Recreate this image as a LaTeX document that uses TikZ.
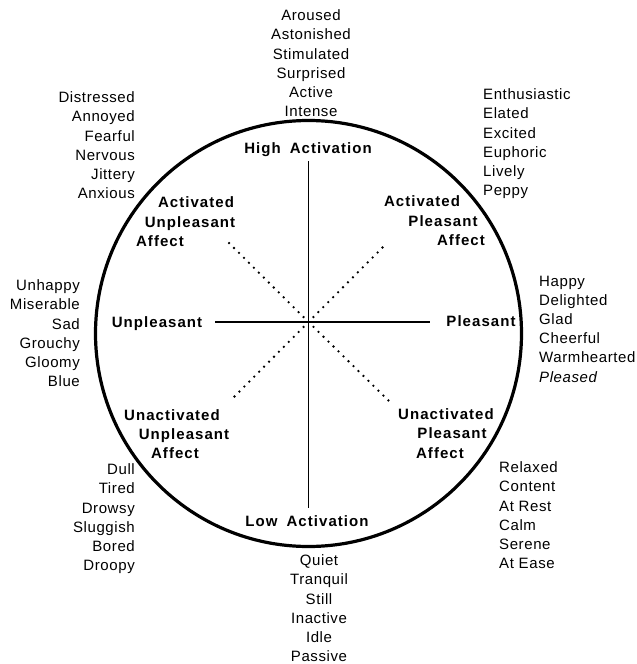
\documentclass[tikz,border=0pt]{standalone}
\usepackage{fontspec}
\setmainfont{Liberation Sans}
\newfontfamily\wordfont[LetterSpace=4]{Liberation Sans}
\newfontfamily\areafont[LetterSpace=7]{Liberation Sans}
\tikzset{
  words/.style={inner sep=0pt, align=#1, font=\wordfont\fontsize{15}{19.2}\selectfont},
  area/.style={inner sep=0pt, anchor=base, font=\areafont\bfseries\fontsize{15}{19}\selectfont},
  axis/.style={line width=1.7pt},
  diag/.style={line width=2.6pt, line cap=round, dash pattern=on 0pt off 7pt},
}

\begin{document}
\begin{tikzpicture}[x=1pt, y=-1pt]
  \useasboundingbox (0,0) rectangle (637,664);

  % circle and axes
  \draw[line width=3.2pt] (308.5,333.5) circle (213pt);
  \coordinate (c) at (308.5,322);
  \coordinate (n) at (308.5,161);
  \coordinate (s) at (308.5,508);
  \coordinate (w) at (215,322);
  \coordinate (e) at (430,322);
  \coordinate (nw) at (228,242);
  \coordinate (ne) at (386,244);
  \coordinate (sw) at (231,400);
  \coordinate (se) at (390,402);
  \draw[axis] (n) -- (s);
  \draw[axis] (w) -- (e);
  \draw[diag] (c) -- (nw);
  \draw[diag] (c) -- (ne);
  \draw[diag] (c) -- (sw);
  \draw[diag] (c) -- (se);

  % axis and quadrant labels
  \node[area] (high) at (308,153) {High\hspace{0.6em}Activation};
  \node[area] (low) at (307,526) {Low\hspace{0.6em}Activation};
  \node[area] (unpl) at (157,327) {Unpleasant};
  \node[area] (pl) at (481,326) {Pleasant};

  \node[area] (aua) at (196,207) {Activated};
  \node[area] (aub) at (190,227) {Unpleasant};
  \node[area] (auc) at (160,246) {Affect};
  \node[area] (apa) at (422,206) {Activated};
  \node[area] (apb) at (443,226) {Pleasant};
  \node[area] (apc) at (461,245) {Affect};
  \node[area] (uua) at (172,420) {Unactivated};
  \node[area] (uub) at (184,439) {Unpleasant};
  \node[area] (uuc) at (175,458) {Affect};
  \node[area] (upa) at (446,419) {Unactivated};
  \node[area] (upb) at (452,438) {Pleasant};
  \node[area] (upc) at (440,458) {Affect};

  % word lists
  \node[words=center, anchor=north] (wn) at (311,9.6)
    {Aroused\\Astonished\\Stimulated\\Surprised\\Active\\Intense};
  \node[words=right, anchor=north east] (wnw) at (135,91.6)
    {Distressed\\Annoyed\\Fearful\\Nervous\\Jittery\\Anxious};
  \node[words=left, anchor=north west] (wne) at (483,88.6)
    {Enthusiastic\\Elated\\Excited\\Euphoric\\Lively\\Peppy};
  \node[words=right, anchor=north east] (ww) at (80,279.6)
    {Unhappy\\Miserable\\Sad\\Grouchy\\Gloomy\\Blue};
  \node[words=left, anchor=north west] (we) at (539,275.6)
    {Happy\\Delighted\\Glad\\Cheerful\\Warmhearted\\\textit{Pleased}};
  \node[words=right, anchor=north east] (wsw) at (135,463.6)
    {Dull\\Tired\\Drowsy\\Sluggish\\Bored\\Droopy};
  \node[words=left, anchor=north west] (wse) at (499,461.6)
    {Relaxed\\Content\\At Rest\\Calm\\Serene\\At Ease};
  \node[words=center, anchor=north] (ws) at (319,554.6)
    {Quiet\\Tranquil\\Still\\Inactive\\Idle\\Passive};
\end{tikzpicture}
\end{document}
